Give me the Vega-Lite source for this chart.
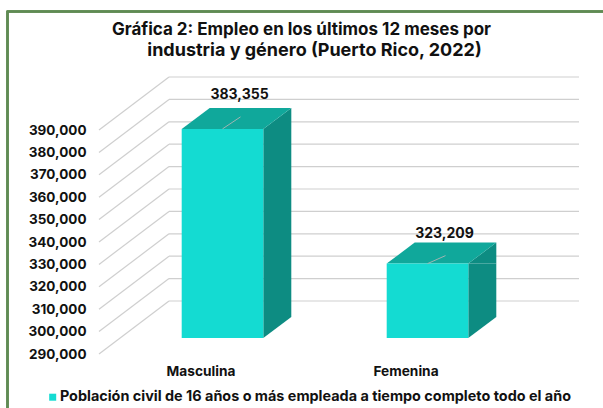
{
"$schema":"https://vega.github.io/schema/vega-lite/v6.json",
"width":410,"height":224,
"autosize":{"type":"none"},
"padding":{"left":169,"top":114,"right":24,"bottom":70},
"background":"white",
"config":{"view":{"stroke":null},"font":"Inter"},
"title":{"text":"Gráfica 2: Empleo en los últimos 12 meses por","font":"Inter","fontSize":17,"fontWeight":"bold","color":"#111111","anchor":"middle","dx":-72.5,"offset":-30},
"datasets":{
"barras":[{"genero":"Masculina","valor":383355,"serie":"Población civil de 16 años o más empleada a tiempo completo todo el año"},{"genero":"Femenina","valor":323209,"serie":"Población civil de 16 años o más empleada a tiempo completo todo el año"}],
"niveles":[{"nivel":290000},{"nivel":300000},{"nivel":310000},{"nivel":320000},{"nivel":330000},{"nivel":340000},{"nivel":350000},{"nivel":360000},{"nivel":370000},{"nivel":380000},{"nivel":390000}],
"titulo2":[{"linea":"industria y género (Puerto Rico, 2022)"}]
},
"layer":[
{"data":{"name":"niveles"},"mark":{"type":"rule","stroke":"#cfcfcf","strokeWidth":1.2,"yOffset":-37},"encoding":{"y":{"field":"nivel","type":"quantitative","scale":{"domain":[290000,390000],"zero":false,"nice":false},"axis":{"title":null,"values":[290000,300000,310000,320000,330000,340000,350000,360000,370000,380000,390000],"tickCount":11,"format":",d","domain":false,"ticks":false,"grid":false,"labelOverlap":false,"labelFont":"Inter","labelFontWeight":"bold","labelFontSize":13.5,"labelColor":"#111111","labelOffset":16,"labelPadding":83}}}},
{"data":{"name":"niveles"},"mark":{"type":"point","shape":"M-264 100L-264 -326.5L340 -326.5","size":4,"filled":false,"stroke":"#5f8a54","strokeWidth":1.5,"opacity":1},
"encoding":{"x":{"datum":"Masculina","type":"nominal","sort":null,"scale":{"type":"band","domain":["Masculina","Femenina"],"paddingInner":0,"paddingOuter":0},"axis":{"title":null,"domain":false,"ticks":false,"labelAngle":0,"labelFont":"Inter","labelFontWeight":"bold","labelFontSize":13.7,"labelColor":"#111111","labelOffset":-70.5,"labelPadding":26}},"y":{"datum":290000,"type":"quantitative"}}},
{"data":{"name":"titulo2"},"mark":{"type":"text","font":"Inter","fontWeight":"bold","fontSize":18,"color":"#111111","baseline":"middle","xOffset":43,"yOffset":-63},"encoding":{"x":{"datum":"Masculina","type":"nominal"},"y":{"datum":390000,"type":"quantitative"},"text":{"field":"linea","type":"nominal"}}},
{"data":{"name":"niveles"},"mark":{"type":"point","shape":"M0 0L70 -53","size":4,"filled":false,"stroke":"#cfcfcf","strokeWidth":1.2,"opacity":1,"xOffset":-172.5,"yOffset":16},"encoding":{"x":{"datum":"Masculina","type":"nominal"},"y":{"field":"nivel","type":"quantitative"}}},
{"data":{"name":"barras"},"mark":{"type":"bar","width":28,"xOffset":5.8,"y2Offset":-21,"fill":"#0d8c82"},"encoding":{"x":{"field":"genero","type":"nominal"},"y":{"field":"valor","type":"quantitative"},"y2":{"datum":290000}}},
{"data":{"name":"barras"},"mark":{"type":"point","shape":"M40.8 0L68.8 -21L68.8 0Z","size":4,"filled":true,"fill":"#0d8c82","stroke":null,"opacity":1,"xOffset":-49},"encoding":{"x":{"field":"genero","type":"nominal"},"y":{"field":"valor","type":"quantitative"}}},
{"data":{"name":"barras"},"mark":{"type":"point","shape":"M40.8 0L68.8 -21L40.8 -21Z","size":4,"filled":true,"fill":"#0d8c82","stroke":null,"opacity":1,"xOffset":-49},"encoding":{"x":{"field":"genero","type":"nominal"},"y":{"datum":290000,"type":"quantitative"}}},
{"data":{"name":"barras"},"mark":{"type":"point","shape":"M-40.8 0L-12.8 -21L68.8 -21L40.8 0Z","size":4,"filled":true,"fill":"#10a89b","stroke":null,"opacity":1,"xOffset":-49},"encoding":{"x":{"field":"genero","type":"nominal"},"y":{"field":"valor","type":"quantitative"}}},
{"data":{"name":"barras"},"mark":{"type":"bar","width":81.6,"xOffset":-49},"encoding":{"x":{"field":"genero","type":"nominal"},"y":{"field":"valor","type":"quantitative"},"y2":{"datum":290000},"color":{"field":"serie","type":"nominal","scale":{"range":["#14dbd2"]},"legend":{"title":null,"orient":"none","legendX":-123.5,"legendY":276,"symbolType":"square","symbolSize":49,"symbolOpacity":1,"symbolStrokeWidth":0,"labelFont":"Inter","labelFontWeight":"bold","labelFontSize":14.4,"labelColor":"#111111","labelLimit":560,"labelOffset":0}}}},
{"data":{"name":"barras"},"mark":{"type":"point","filled":false,"size":4,"stroke":"#9fb5b2","strokeWidth":1,"opacity":1,"xOffset":-49},"encoding":{"x":{"field":"genero","type":"nominal"},"y":{"field":"valor","type":"quantitative"},"shape":{"field":"genero","type":"nominal","legend":null,"scale":{"domain":["Masculina","Femenina"],"range":["M0 0L18 -12","M0 0L18 -8"]}}}},
{"data":{"name":"barras"},"mark":{"type":"text","font":"Inter","fontWeight":"bold","fontSize":14,"color":"#111111","baseline":"middle","xOffset":-32,"yOffset":{"expr":"datum.valor>350000?-34:-30"}},"encoding":{"x":{"field":"genero","type":"nominal"},"y":{"field":"valor","type":"quantitative"},"text":{"field":"valor","type":"quantitative","format":","}}}
]
}
